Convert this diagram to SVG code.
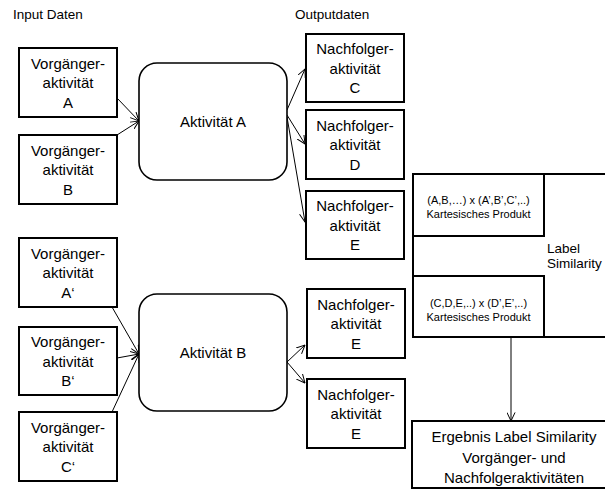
<svg xmlns="http://www.w3.org/2000/svg" width="605" height="489" viewBox="0 0 605 489">
<style>
  text { font-family: "Liberation Sans", Arial, sans-serif; fill: #000; }
  .n { font-size: 15px; text-anchor: middle; }
  .s { font-size: 11px; text-anchor: middle; }
  .h { font-size: 13.5px; }
  .box { fill: #fff; stroke: #000; stroke-width: 2; }
  .act { fill: #fff; stroke: #000; stroke-width: 1.6; }
  .frame { fill: none; stroke: #000; stroke-width: 2; }
  .c { fill: none; stroke: #000; stroke-width: 1; marker-end: url(#arr); }
</style>
<defs>
  <marker id="arr" viewBox="0 0 10 10" refX="9.5" refY="5" markerWidth="9" markerHeight="9" markerUnits="userSpaceOnUse" orient="auto">
    <path d="M0,0.5 L9.5,5 L0,9.5" fill="none" stroke="#000" stroke-width="1.1"/>
  </marker>
</defs>
<rect width="605" height="489" fill="#fff"/>

<g id="labels">
  <text class="h" x="13" y="19">Input Daten</text>
  <text class="h" x="295" y="19">Outputdaten</text>
</g>

<g id="connectors">
  <line class="c" x1="117" y1="98" x2="139" y2="121"/>
  <line class="c" x1="117" y1="135" x2="139" y2="121"/>
  <line class="c" x1="287" y1="110" x2="305" y2="69"/>
  <line class="c" x1="287" y1="115" x2="305" y2="144"/>
  <line class="c" x1="287" y1="117" x2="305" y2="222"/>
  <line class="c" x1="112" y1="307" x2="139" y2="354"/>
  <line class="c" x1="117" y1="358" x2="139" y2="354"/>
  <line class="c" x1="112" y1="412" x2="139" y2="354"/>
  <line class="c" x1="287" y1="362" x2="305" y2="345"/>
  <line class="c" x1="287" y1="362" x2="305" y2="383"/>
  <line class="c" x1="511" y1="337" x2="511" y2="421"/>
</g>

<g id="vorgaenger-a">
  <rect class="box" x="19" y="48" width="98" height="69"/>
  <text class="n" x="68" y="68.5">Vorgänger-</text>
  <text class="n" x="68" y="88">aktivität</text>
  <text class="n" x="68" y="107.5">A</text>
</g>
<g id="vorgaenger-b">
  <rect class="box" x="19" y="135" width="98" height="69"/>
  <text class="n" x="68" y="155.5">Vorgänger-</text>
  <text class="n" x="68" y="175">aktivität</text>
  <text class="n" x="68" y="194.5">B</text>
</g>
<g id="aktivitaet-a">
  <rect class="act" x="139" y="63" width="148" height="117" rx="18" ry="18"/>
  <text class="n" x="213" y="127">Aktivität A</text>
</g>
<g id="nachfolger-c">
  <rect class="box" x="306" y="34" width="98" height="68"/>
  <text class="n" x="355" y="54">Nachfolger-</text>
  <text class="n" x="355" y="73.5">aktivität</text>
  <text class="n" x="355" y="93">C</text>
</g>
<g id="nachfolger-d">
  <rect class="box" x="306" y="110" width="98" height="69"/>
  <text class="n" x="355" y="130.5">Nachfolger-</text>
  <text class="n" x="355" y="150">aktivität</text>
  <text class="n" x="355" y="169.5">D</text>
</g>
<g id="nachfolger-e1">
  <rect class="box" x="306" y="191" width="98" height="68"/>
  <text class="n" x="355" y="211">Nachfolger-</text>
  <text class="n" x="355" y="230.5">aktivität</text>
  <text class="n" x="355" y="250">E</text>
</g>

<g id="vorgaenger-a2">
  <rect class="box" x="19" y="238" width="98" height="69"/>
  <text class="n" x="68" y="258.5">Vorgänger-</text>
  <text class="n" x="68" y="278">aktivität</text>
  <text class="n" x="68" y="297.5">A‘</text>
</g>
<g id="vorgaenger-b2">
  <rect class="box" x="19" y="327" width="98" height="68"/>
  <text class="n" x="68" y="347">Vorgänger-</text>
  <text class="n" x="68" y="366.5">aktivität</text>
  <text class="n" x="68" y="386">B‘</text>
</g>
<g id="vorgaenger-c2">
  <rect class="box" x="19" y="412" width="98" height="69"/>
  <text class="n" x="68" y="432.5">Vorgänger-</text>
  <text class="n" x="68" y="452">aktivität</text>
  <text class="n" x="68" y="471.5">C‘</text>
</g>
<g id="aktivitaet-b">
  <rect class="act" x="139" y="294" width="148" height="117" rx="18" ry="18"/>
  <text class="n" x="213" y="358">Aktivität B</text>
</g>
<g id="nachfolger-e2">
  <rect class="box" x="307" y="289" width="98" height="69"/>
  <text class="n" x="356" y="309.5">Nachfolger-</text>
  <text class="n" x="356" y="329">aktivität</text>
  <text class="n" x="356" y="348.5">E</text>
</g>
<g id="nachfolger-e3">
  <rect class="box" x="307" y="379" width="98" height="69"/>
  <text class="n" x="356" y="399.5">Nachfolger-</text>
  <text class="n" x="356" y="419">aktivität</text>
  <text class="n" x="356" y="438.5">E</text>
</g>

<g id="label-similarity">
  <path class="frame" d="M607,174 H413 V337 H607"/>
  <text class="h" x="547" y="253">Label</text>
  <text class="h" x="547" y="268">Similarity</text>
</g>
<g id="kartesisch-1">
  <rect class="box" x="413" y="174" width="131" height="62"/>
  <text class="s" x="478.5" y="204">(A,B,…) x (A’,B’,C’,..)</text>
  <text class="s" x="478.5" y="218">Kartesisches Produkt</text>
</g>
<g id="kartesisch-2">
  <rect class="box" x="413" y="276" width="131" height="61"/>
  <text class="s" x="478.5" y="307">(C,D,E,..) x (D’,E’,..)</text>
  <text class="s" x="478.5" y="321">Kartesisches Produkt</text>
</g>
<g id="ergebnis">
  <path class="frame" d="M607,421 H412 V488 H607"/>
  <text class="n" x="514" y="442">Ergebnis Label Similarity</text>
  <text class="n" x="514" y="462.5">Vorgänger- und</text>
  <text class="n" x="514" y="483">Nachfolgeraktivitäten</text>
</g>
</svg>
